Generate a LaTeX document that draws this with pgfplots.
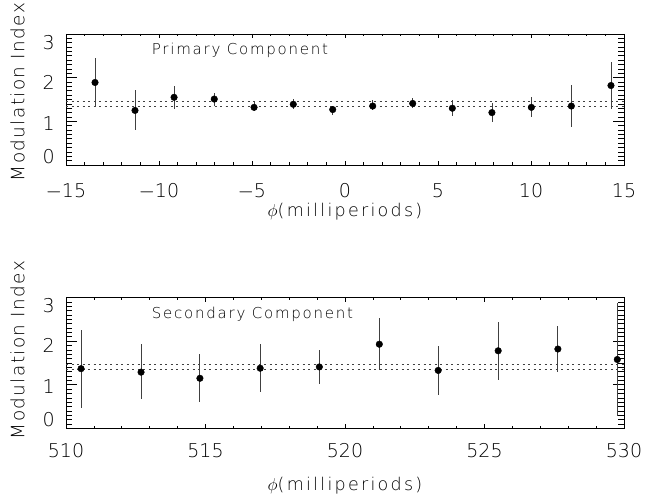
\documentclass[border=0pt]{standalone}
\usepackage{fontspec}
\setmainfont{DejaVu Sans ExtraLight}
\usepackage{pgfplots}
\pgfplotsset{compat=1.18}

\pgfplotsset{
  modpanel/.style={
    scale only axis, width=558bp, height=131bp,
    anchor=south west,
    axis line style={line width=0.8bp},
    ymin=0, ymax=3,
    ytick={0,1,2,3},
    yticklabels={\raisebox{1.6bp}{0},\raisebox{-8.7bp}{1},\raisebox{-11.4bp}{2},\raisebox{-15.2bp}{3}},
    minor y tick num=9,
    tick align=inside,
    xtick pos=both, ytick pos=both,
    xticklabel pos=lower, yticklabel pos=left,
    major tick length=10.7bp, minor tick length=5.7bp,
    every tick/.style={black, line width=0.7bp},
    xtick style={/pgfplots/major tick length=4bp, /pgfplots/minor tick length=2.5bp},
    ticklabel style={font=\fontsize{19bp}{22bp}\selectfont},
    xticklabel style={anchor=north, inner sep=0pt},
    yticklabel style={anchor=base east, inner sep=0pt, xshift=-11bp},
    ylabel={Modulation Index},
    ylabel style={anchor=base, font=\fontsize{18.4bp}{21bp}\selectfont\addfontfeature{LetterSpace=7.6}},
    xlabel={$\phi$(milliperiods)},
    xlabel style={anchor=base, font=\fontsize{17.5bp}{20bp}\selectfont\addfontfeature{LetterSpace=13}},
  },
  refline/.style={black!75, line width=0.8bp, dash pattern=on 2bp off 3.5bp},
  datapts/.style={only marks, mark=*, mark size=3.3bp, black,
    error bars/.cd, y dir=both, y explicit, error mark=none,
    error bar style={line width=#1, black!75}},
}

\begin{document}
\begin{tikzpicture}
\path[use as bounding box] (0,0) rectangle (645bp,499bp);

% upper panel
\begin{axis}[modpanel, at={(66bp,334bp)},
    xmin=-15, xmax=15,
    xtick={-15,-10,-5,0,5,10,15},
    xticklabels={$-$15,$-$10,$-$5,0,5,10,15},
    minor x tick num=4,
    xticklabel style={yshift=-18.3bp},
    xlabel style={at={(axis description cs:0.5,-0.395)}},
    ylabel style={at={(axis description cs:-0.0744,0.557)}},
]
\addplot[refline] coordinates {(-15,1.46) (15,1.46)};
\addplot[refline] coordinates {(-15,1.35) (15,1.35)};
\addplot[datapts=0.8bp] coordinates {
    (-13.44,1.89) += (0,0.56) -= (0,0.54)
    (-11.29,1.25) += (0,0.47) -= (0,0.44)
    (-9.19,1.55)  += (0,0.26) -= (0,0.26)
    (-7.03,1.51)  += (0,0.14) -= (0,0.15)
    (-4.89,1.32)  += (0,0.13) -= (0,0.08)
    (-2.78,1.39)  += (0,0.12) -= (0,0.11)
    (-0.66,1.27)  += (0,0.09) -= (0,0.12)
    (1.49,1.35)   += (0,0.13) -= (0,0.10)
    (3.64,1.41)   += (0,0.12) -= (0,0.11)
    (5.77,1.30)   += (0,0.18) -= (0,0.18)
    (7.90,1.20)   += (0,0.21) -= (0,0.22)
    (10.02,1.32)  += (0,0.23) -= (0,0.22)
    (12.17,1.35)  += (0,0.48) -= (0,0.47)
    (14.30,1.82)  += (0,0.53) -= (0,0.53)
};
\node[anchor=base west, inner sep=0pt,
      font=\fontsize{15bp}{18bp}\selectfont\addfontfeature{LetterSpace=11.7}]
    at (rel axis cs:0.1536,0.845) {Primary Component};
\end{axis}

% lower panel
\begin{axis}[modpanel, at={(66bp,70.5bp)},
    xmin=510, xmax=530,
    xtick={510,515,520,525,530},
    xticklabels={510,515,520,525,530},
    minor x tick num=4,
    xticklabel style={yshift=-14.5bp},
    xlabel style={at={(axis description cs:0.5,-0.47)}},
    ylabel style={at={(axis description cs:-0.0744,0.599)}},
]
\addplot[refline] coordinates {(510,1.46) (530,1.46)};
\addplot[refline] coordinates {(510,1.35) (530,1.35)};
\addplot[datapts=1.1bp] coordinates {
    (510.54,1.37) += (0,0.89) -= (0,0.90)
    (512.69,1.29) += (0,0.64) -= (0,0.62)
    (514.80,1.15) += (0,0.56) -= (0,0.55)
    (516.96,1.38) += (0,0.55) -= (0,0.55)
    (519.08,1.41) += (0,0.38) -= (0,0.39)
    (521.23,1.93) += (0,0.60) -= (0,0.60)
    (523.34,1.33) += (0,0.56) -= (0,0.56)
    (525.49,1.78) += (0,0.66) -= (0,0.68)
    (527.63,1.82) += (0,0.53) -= (0,0.53)
    (529.76,1.58) += (0,1.29) -= (0,1.29)
};
\node[anchor=base west, inner sep=0pt,
      font=\fontsize{15bp}{18bp}\selectfont\addfontfeature{LetterSpace=11.7}]
    at (rel axis cs:0.1536,0.841) {Secondary Component};
\end{axis}
\end{tikzpicture}
\end{document}
